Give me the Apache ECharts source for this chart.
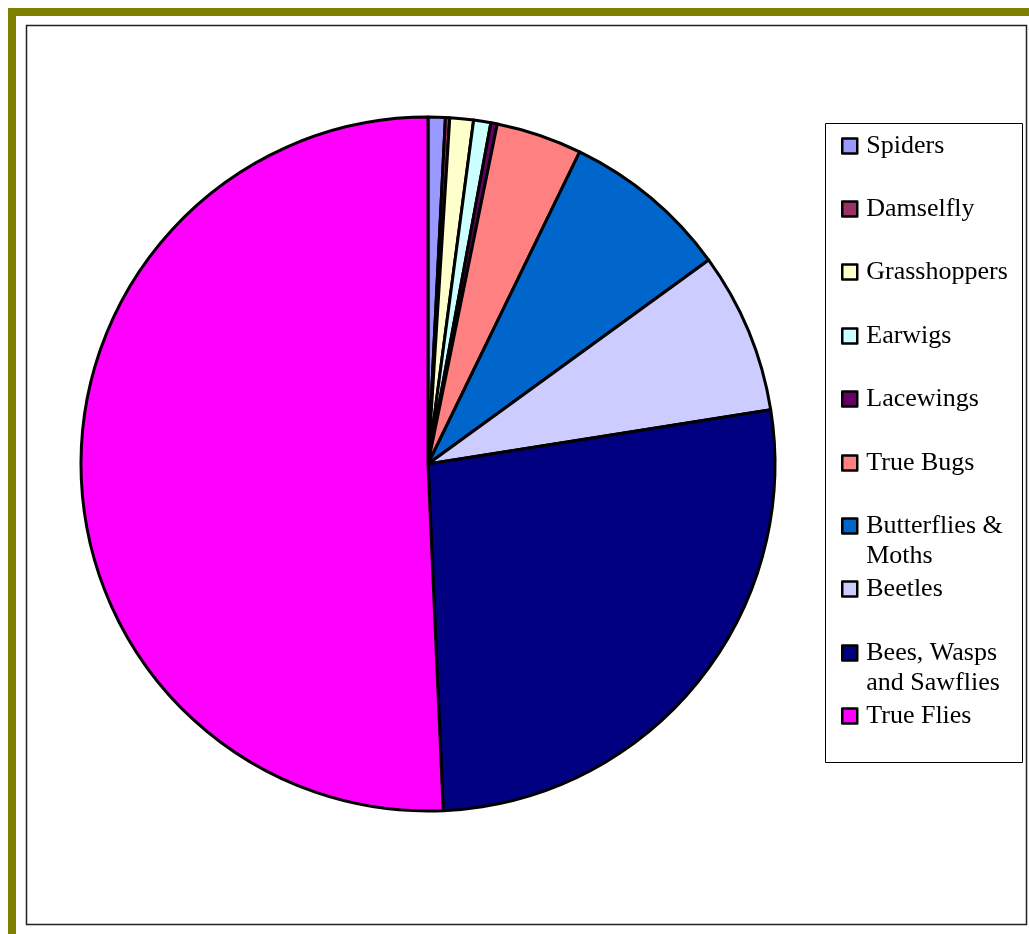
<!DOCTYPE html>
<html>
<head>
<meta charset="utf-8">
<script src="https://cdn.jsdelivr.net/npm/echarts@6/dist/echarts.min.js"></script>
<style>
html,body{margin:0;padding:0;background:#fff;}
#chart{width:1029px;height:934px;}
</style>
</head>
<body>
<div id="chart"></div>
<script>
// Data (percent share of insects caught)
const categories = ['Spiders', 'Damselfly', 'Grasshoppers', 'Earwigs', 'Lacewings', 'True Bugs', 'Butterflies &\nMoths', 'Beetles', 'Bees, Wasps\nand Sawflies', 'True Flies'];
const values = [0.8, 0.2, 1.1, 0.8, 0.3, 4.0, 7.8, 7.5, 26.8, 50.7];
const colors = ['#9999FF', '#993366', '#FFFFCC', '#CCFFFF', '#660066', '#FF8080', '#0066CC', '#CCCCFF', '#000080', '#FF00FF'];

// layout: vertical centre of each legend entry's first line
const legendCenters = [145, 208, 271, 335, 398, 462, 525, 588, 652, 715];

const chart = echarts.init(document.getElementById('chart'), null, {renderer: 'canvas'});

// square at the top of a taller box, so the swatch sits beside the first text line
const topSquareIcon = 'path://M0,0L15,0L15,15L0,15Z M15,45';

const legends = categories.map((name, i) => {
  const multi = name.indexOf('\n') >= 0;
  return {
    data: [name],
    orient: 'vertical',
    left: 841,
    top: legendCenters[i] - 14,
    padding: 0,
    itemWidth: 15,
    itemHeight: multi ? 45 : 15,
    icon: multi ? topSquareIcon : 'rect',
    selectedMode: false,
    itemStyle: {borderColor: '#000', borderWidth: 2.5},
    textStyle: {
      fontFamily: '"Liberation Serif", "Times New Roman", serif',
      fontSize: 26,
      lineHeight: 30,
      color: '#000',
      padding: [0, 0, 0, 4]
    }
  };
});

chart.setOption({
  animation: false,
  backgroundColor: '#fff',
  color: colors,
  graphic: [
    {type: 'rect', shape: {x: 8, y: 8, width: 1021, height: 8}, style: {fill: '#808000'}, silent: true},
    {type: 'rect', shape: {x: 8, y: 8, width: 8, height: 926}, style: {fill: '#808000'}, silent: true},
    {type: 'rect', shape: {x: 26.5, y: 25.5, width: 1000, height: 899}, style: {fill: 'none', stroke: '#222', lineWidth: 1.5}, silent: true},
    {type: 'rect', shape: {x: 825.5, y: 123.5, width: 197, height: 639}, style: {fill: 'none', stroke: '#000', lineWidth: 1}, silent: true}
  ],
  legend: legends,
  series: [{
    type: 'pie',
    center: [428, 464],
    radius: 347,
    startAngle: 90,
    clockwise: true,
    label: {show: false},
    labelLine: {show: false},
    emphasis: {disabled: true},
    itemStyle: {borderColor: '#000', borderWidth: 3},
    data: categories.map((c, i) => ({name: c, value: values[i]}))
  }]
});
</script>
</body>
</html>
